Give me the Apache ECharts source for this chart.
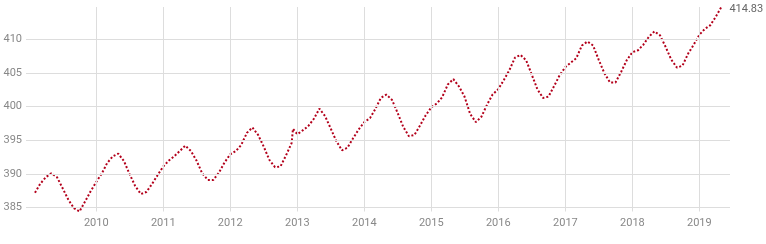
<!DOCTYPE html>
<html>
<head>
<meta charset="utf-8">
<style>
  html, body { margin: 0; padding: 0; background: #fff; }
  #chart { width: 766px; height: 244px; }
</style>
<script src="https://cdn.jsdelivr.net/npm/echarts@6/dist/echarts.min.js"></script>
</head>
<body>
<div id="chart"></div>
<script>
// Monthly CO2 readings (ppm), month start dates
const months = [
  '2009-02','2009-03','2009-04','2009-05','2009-06','2009-07','2009-08','2009-09','2009-10','2009-11','2009-12',
  '2010-01','2010-02','2010-03','2010-04','2010-05','2010-06','2010-07','2010-08','2010-09','2010-10','2010-11','2010-12',
  '2011-01','2011-02','2011-03','2011-04','2011-05','2011-06','2011-07','2011-08','2011-09','2011-10','2011-11','2011-12',
  '2012-01','2012-02','2012-03','2012-04','2012-05','2012-06','2012-07','2012-08','2012-09','2012-10','2012-11','2012-12','2012-12-08',
  '2013-01','2013-02','2013-03','2013-04','2013-05','2013-06','2013-07','2013-08','2013-09','2013-10','2013-11','2013-12',
  '2014-01','2014-02','2014-03','2014-04','2014-05','2014-06','2014-07','2014-08','2014-09','2014-10','2014-11','2014-12',
  '2015-01','2015-02','2015-03','2015-04','2015-05','2015-06','2015-07','2015-08','2015-09','2015-10','2015-11','2015-12',
  '2016-01','2016-02','2016-03','2016-04','2016-05','2016-06','2016-07','2016-08','2016-09','2016-10','2016-11','2016-12',
  '2017-01','2017-02','2017-03','2017-04','2017-05','2017-06','2017-07','2017-08','2017-09','2017-10','2017-11','2017-12',
  '2018-01','2018-02','2018-03','2018-04','2018-05','2018-06','2018-07','2018-08','2018-09','2018-10','2018-11','2018-12',
  '2019-01','2019-02','2019-03','2019-04','2019-05'
];
const co2 = [
  387.2, 388.5, 389.5, 390.1, 389.5, 387.9, 386.2, 384.9, 384.4, 385.9, 387.4,
  388.8, 390.1, 391.6, 392.6, 393.0, 391.9, 390.0, 388.2, 387.0, 387.3, 388.5, 389.8,
  391.1, 392.0, 392.6, 393.4, 394.2, 393.4, 392.0, 390.1, 389.1, 389.1, 390.2, 391.7,
  392.9, 393.4, 394.3, 396.1, 396.9, 395.8, 394.1, 392.1, 391.0, 391.1, 392.8, 394.6, 396.7,
  395.9, 396.5, 397.1, 398.2, 399.7, 398.6, 396.8, 394.9, 393.5, 393.9, 395.3, 396.6,
  397.7, 398.3, 399.6, 401.3, 401.8, 401.0, 399.1, 397.0, 395.6, 395.8, 397.2, 398.7,
  399.9, 400.5, 401.4, 403.3, 404.1, 403.0, 401.5, 398.9, 397.7, 398.5, 400.3, 401.8,
  402.6, 404.0, 405.4, 407.3, 407.7, 406.9, 404.8, 402.6, 401.3, 401.5, 403.1, 404.7,
  405.9, 406.6, 407.2, 409.1, 409.7, 409.1, 407.0, 405.0, 403.6, 403.6, 405.2, 406.9,
  408.1, 408.4, 409.2, 410.4, 411.2, 410.6, 408.9, 407.0, 405.8, 406.1, 407.9, 409.2,
  410.7, 411.6, 412.1, 413.4, 414.83
];
// Gridline positions
const yTicks = [385, 390, 395, 400, 405, 410];
const yearTicks = ['2010','2011','2012','2013','2014','2015','2016','2017','2018','2019'];

const chart = echarts.init(document.getElementById('chart'), null, { renderer: 'canvas' });
const seriesData = months.map((m, i) => [m, co2[i]]);
const gridStyle = { color: '#dddddd', width: 1, type: 'solid' };

chart.setOption({
  animation: false,
  textStyle: { fontFamily: 'Roboto' },
  grid: { left: 26, right: 36, top: 7, bottom: 32.5, containLabel: false },
  xAxis: {
    type: 'time',
    min: '2008-12-14',
    max: '2019-06-17',
    splitNumber: 10,
    axisLine: { show: false },
    axisTick: { show: false },
    axisLabel: {
      color: '#888',
      fontSize: 11,
      fontFamily: 'Roboto',
      margin: 6,
      showMinLabel: false,
      showMaxLabel: false,
      formatter: v => {
        const y = String(new Date(v).getFullYear());
        return yearTicks.indexOf(y) >= 0 ? y : '';
      }
    },
    splitLine: { show: false }
  },
  yAxis: {
    type: 'value',
    min: v => v.min,
    max: v => v.max,
    axisLine: { show: false },
    axisTick: { show: false },
    axisLabel: {
      color: '#888',
      fontSize: 11,
      fontFamily: 'Roboto',
      margin: 4,
      showMinLabel: false,
      showMaxLabel: false
    },
    splitLine: { show: false }
  },
  series: [{
    type: 'line',
    data: [],
    z: 1,
    silent: true,
    markLine: {
      silent: true,
      symbol: ['none', 'none'],
      label: { show: false },
      emphasis: { disabled: true },
      animation: false,
      lineStyle: gridStyle,
      data: yTicks.map(v => ({ yAxis: v })).concat(yearTicks.map(y => ({ xAxis: y + '-01-01' })))
    }
  }, {
    type: 'line',
    data: seriesData,
    z: 3,
    showSymbol: false,
    symbol: 'none',
    clip: false,
    lineStyle: { color: '#b3001b', width: 2, type: 'dotted' },
    endLabel: {
      show: true,
      distance: 8,
      offset: [0, 2],
      color: '#666',
      fontSize: 11,
      fontFamily: 'Roboto',
      formatter: p => String(p.value[1])
    }
  }]
});
</script>
</body>
</html>
